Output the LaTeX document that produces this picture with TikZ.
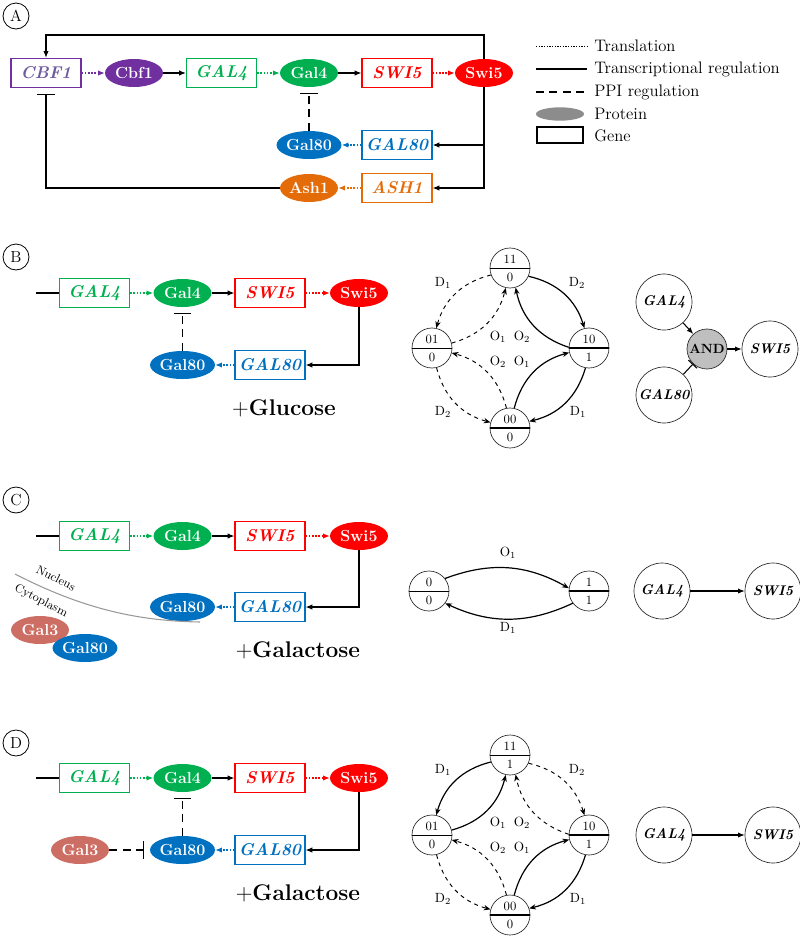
\documentclass[tikz,border=0pt]{standalone}
\usetikzlibrary{arrows.meta,shapes.geometric,calc}
\definecolor{cpurple}{RGB}{112,48,160}
\definecolor{cpurpletxt}{RGB}{110,90,160}
\definecolor{cgreen}{RGB}{0,176,80}
\definecolor{cred}{RGB}{255,0,0}
\definecolor{cblue}{RGB}{0,112,192}
\definecolor{corange}{RGB}{227,108,9}
\definecolor{csalmon}{RGB}{205,110,100}
\newcommand\genefont{\fontsize{12.8}{14}\selectfont\bfseries\itshape}
\newcommand\protfont{\fontsize{12}{14}\selectfont\bfseries}
\newcommand\stnode[6]{%
  \node[stc] (#1) at (#2,#3) {};
  \draw[line width=#6] (#1.west) -- (#1.east);
  \node[stt] (#1t) at ($(#1)+(0,-9)$) {#4};
  \node[stt] (#1b) at ($(#1)+(0,9.5)$) {#5};
}
\tikzset{
  gene/.style={draw=#1, line width=0.9pt, minimum width=52.5pt, minimum height=22pt, inner sep=0pt, text=#1, font=\genefont},
  prot/.style={ellipse, fill=#1, minimum width=43.5pt, minimum height=21pt, inner sep=0pt, text=white, font=\protfont},
  arr/.style={-{Latex[length=5pt,width=4pt]}, line width=0.8pt},
  trans/.style={dash pattern=on 1.2pt off 1.2pt, line width=0.9pt, draw=#1, -{Latex[length=5pt,width=4pt]}},
  inhib/.style={-{Bar[width=13pt]}, line width=0.8pt, shorten >=4pt},
  ppi/.style={dash pattern=on 6pt off 4pt, line width=0.8pt},
  plab/.style={circle, draw, line width=0.6pt, inner sep=0pt, minimum size=19.5pt, font=\fontsize{12}{14}\selectfont},
  legtxt/.style={anchor=west, font=\fontsize{12.5}{14}\selectfont, inner sep=0pt},
  stc/.style={circle, draw=black!85, line width=0.5pt, minimum size=30pt, inner sep=0pt},
  stt/.style={font=\fontsize{9.5}{10}\selectfont, inner sep=0pt},
  elab/.style={font=\fontsize{10}{11}\selectfont, inner sep=0pt},
  sdash/.style={dashed, line width=0.7pt, -{Stealth[length=5pt,width=4pt,inset=1.5pt]}},
  ssolid/.style={line width=0.9pt, -{Stealth[length=5pt,width=4pt,inset=1.5pt]}},
  bigc/.style={circle, draw=black!85, line width=0.5pt, minimum size=42pt, inner sep=0pt, font=\fontsize{10.5}{11}\selectfont\bfseries\itshape},
  andc/.style={circle, draw=black!85, fill=black!25, line width=0.5pt, minimum size=30pt, inner sep=0pt, font=\fontsize{10}{11}\selectfont\bfseries},
  glu/.style={font=\fontsize{17}{19}\selectfont},
  celltxt/.style={font=\fontsize{9}{10}\selectfont, rotate=-27, inner sep=0pt}
}
\begin{document}
\begin{tikzpicture}[x=0.75pt,y=-0.75pt]
\useasboundingbox (0,0) rectangle (800,936);

% ===== Panel A =====
\node[plab] (labA) at (16,16) {A};
\node[gene=cpurple, text=cpurpletxt] (cbfA) at (46,73) {CBF1};
\node[prot=cpurple] (CbfA) at (134,73) {Cbf1};
\node[gene=cgreen] (gal4A) at (221.5,73) {GAL4};
\node[prot=cgreen] (Gal4A) at (309,73) {Gal4};
\node[gene=cred] (swi5A) at (397,73) {SWI5};
\node[prot=cred] (Swi5A) at (484,73) {Swi5};
\node[prot=cblue] (Gal80A) at (309,145) {Gal80};
\node[gene=cblue] (gal80A) at (397,145) {GAL80};
\node[prot=corange] (Ash1A) at (309,188) {Ash1};
\node[gene=corange] (ash1A) at (397,188) {ASH1};
\coordinate (topA) at (46,35);
\draw[trans=cpurple] (cbfA) -- (CbfA);
\draw[arr] (CbfA) -- (gal4A);
\draw[trans=cgreen] (gal4A) -- (Gal4A);
\draw[arr] (Gal4A) -- (swi5A);
\draw[trans=cred] (swi5A) -- (Swi5A);
\draw[trans=cblue] (gal80A) -- (Gal80A);
\draw[trans=corange] (ash1A) -- (Ash1A);
\draw[ppi, -{Bar[width=13pt]}, shorten >=4.5pt] (Gal80A.north) -- (Gal4A.south);
\draw[arr] (Swi5A.north) |- (topA) -- (cbfA.north);
\draw[arr] (Swi5A.south) |- (gal80A.east);
\draw[arr] (Swi5A.south) |- (ash1A.east);
\draw[inhib] (Ash1A.west) -| (cbfA.south);

% legend
\coordinate (l1a) at (536,46); \coordinate (l1b) at (587,46);
\coordinate (l2a) at (536,69); \coordinate (l2b) at (587,69);
\coordinate (l3a) at (536,92); \coordinate (l3b) at (587,92);
\draw[dash pattern=on 1pt off 1pt, line width=0.7pt] (l1a) -- (l1b);
\draw[line width=0.8pt] (l2a) -- (l2b);
\draw[dash pattern=on 6pt off 4pt, line width=0.8pt] (l3a) -- (l3b);
\node[ellipse, fill=black!45, minimum width=36pt, minimum height=10pt, inner sep=0pt] (lprot) at (560,114) {};
\node[draw, line width=1.3pt, minimum width=34pt, minimum height=12pt, inner sep=0pt] (lgene) at (560,135) {};
\node[legtxt] (lt1) at (594,46) {Translation};
\node[legtxt] (lt2) at (594,69) {Transcriptional regulation};
\node[legtxt] (lt3) at (594,92) {PPI regulation};
\node[legtxt] (lt4) at (594,114) {Protein};
\node[legtxt] (lt5) at (594,136) {Gene};

% ===== Panel B =====
\node[plab] (labB) at (16,257) {B};
\coordinate (bL) at (36,293);
\node[gene=cgreen] (gal4B) at (94.5,293) {GAL4};
\node[prot=cgreen] (Gal4B) at (182.5,293) {Gal4};
\node[gene=cred] (swi5B) at (270,293) {SWI5};
\node[prot=cred] (Swi5B) at (359,293) {Swi5};
\node[prot=cblue] (Gal80B) at (182.5,365) {Gal80};
\node[gene=cblue] (gal80B) at (270,365) {GAL80};
\draw[line width=0.8pt] (bL) -- (gal4B.west);
\draw[trans=cgreen] (gal4B) -- (Gal4B);
\draw[arr] (Gal4B) -- (swi5B);
\draw[trans=cred] (swi5B) -- (Swi5B);
\draw[trans=cblue] (gal80B) -- (Gal80B);
\draw[ppi, -{Bar[width=13pt]}, shorten >=4.5pt] (Gal80B.north) -- (Gal4B.south);
\draw[arr] (Swi5B.south) |- (gal80B.east);
\node[glu] (gluB) at (284,408) {$+$\textbf{Glucose}};

\stnode{b11}{510}{268}{11}{0}{0.5pt}
\stnode{b01}{432}{348}{01}{0}{0.5pt}
\stnode{b10}{589}{348}{10}{1}{1.2pt}
\stnode{b00}{510}{428}{00}{0}{1.2pt}
\draw[sdash] (b11.200) to[bend right=30] (b01.78);
\draw[sdash] (b01.14) to[bend right=30] (b11.258);
\draw[ssolid] (b11.336) to[bend left=30] (b10.103);
\draw[ssolid] (b10.178) to[bend left=30] (b11.286);
\draw[sdash] (b00.100) to[bend right=30] (b01.346);
\draw[sdash] (b01.283) to[bend right=30] (b00.164);
\draw[ssolid] (b00.78) to[bend left=30] (b10.193);
\draw[ssolid] (b10.260) to[bend left=30] (b00.19);
\node[elab] (bD1a) at (443,283) {D$_1$};
\node[elab] (bD2a) at (577,283) {D$_2$};
\node[elab] (bO1a) at (498,337) {O$_1$};
\node[elab] (bO2a) at (522,337) {O$_2$};
\node[elab] (bO2b) at (498,362) {O$_2$};
\node[elab] (bO1b) at (522,362) {O$_1$};
\node[elab] (bD2b) at (443,412) {D$_2$};
\node[elab] (bD1b) at (578,412) {D$_1$};

\node[bigc] (rg4B) at (664,302) {GAL4};
\node[bigc] (rg80B) at (664,395) {GAL80};
\node[andc] (andB) at (707,349) {AND};
\node[bigc] (rs5B) at (770,349) {SWI5};
\draw[arr] (rg4B) -- (andB);
\draw[line width=0.8pt, -{Bar[width=9pt]}] (rg80B) -- (andB);
\draw[arr] (andB) -- (rs5B);

% ===== Panel C =====
\node[plab] (labC) at (16,500) {C};
\coordinate (cL) at (36,536);
\node[gene=cgreen] (gal4C) at (94.5,536) {GAL4};
\node[prot=cgreen] (Gal4C) at (182.5,536) {Gal4};
\node[gene=cred] (swi5C) at (270,536) {SWI5};
\node[prot=cred] (Swi5C) at (359,536) {Swi5};
\node[prot=cblue] (Gal80C) at (182.5,607) {Gal80};
\node[gene=cblue] (gal80C) at (270,607) {GAL80};
\draw[line width=0.8pt] (cL) -- (gal4C.west);
\draw[trans=cgreen] (gal4C) -- (Gal4C);
\draw[arr] (Gal4C) -- (swi5C);
\draw[trans=cred] (swi5C) -- (Swi5C);
\draw[trans=cblue] (gal80C) -- (Gal80C);
\draw[arr] (Swi5C.south) |- (gal80C.east);
\draw[black!40, line width=0.8pt] (15,574) .. controls (85,610) and (140,621) .. (200,622);
\node[celltxt] (nuc) at (56,578) {Nucleus};
\node[celltxt] (cyt) at (41,601) {Cytoplasm};
\node[prot=csalmon] (Gal3C) at (40,630) {Gal3};
\node[prot=cblue] (Gal80Cc) at (85,648) {Gal80};
\node[glu] (galC) at (298,650) {$+$\textbf{Galactose}};

\stnode{c0}{429}{591}{0}{0}{0.5pt}
\stnode{c1}{589}{591}{1}{1}{1.2pt}
\draw[ssolid] (c0.38) to[bend left=25] (c1.172);
\draw[ssolid] (c1.217) to[bend left=25] (c0.323);
\node[elab] (cO1) at (508,553) {O$_1$};
\node[elab] (cD1) at (508,628) {D$_1$};

\node[bigc] (rg4C) at (662,591) {GAL4};
\node[bigc] (rs5C) at (773,591) {SWI5};
\draw[arr] (rg4C) -- (rs5C);

% ===== Panel D =====
\node[plab] (labD) at (16,743) {D};
\coordinate (dL) at (36,778);
\node[gene=cgreen] (gal4D) at (94.5,778) {GAL4};
\node[prot=cgreen] (Gal4D) at (182.5,778) {Gal4};
\node[gene=cred] (swi5D) at (270,778) {SWI5};
\node[prot=cred] (Swi5D) at (359,778) {Swi5};
\node[prot=cblue] (Gal80D) at (182.5,850) {Gal80};
\node[gene=cblue] (gal80D) at (270,850) {GAL80};
\node[prot=csalmon] (Gal3D) at (80,850) {Gal3};
\draw[line width=0.8pt] (dL) -- (gal4D.west);
\draw[trans=cgreen] (gal4D) -- (Gal4D);
\draw[arr] (Gal4D) -- (swi5D);
\draw[trans=cred] (swi5D) -- (Swi5D);
\draw[trans=cblue] (gal80D) -- (Gal80D);
\draw[ppi, -{Bar[width=13pt]}, shorten >=4.5pt] (Gal80D.north) -- (Gal4D.south);
\draw[ppi, -{Bar[width=13pt]}, shorten >=4pt] (Gal3D.east) -- (Gal80D.west);
\draw[arr] (Swi5D.south) |- (gal80D.east);
\node[glu] (galD) at (298,893) {$+$\textbf{Galactose}};

\stnode{d11}{510}{755}{11}{1}{0.5pt}
\stnode{d01}{432}{835}{01}{0}{0.5pt}
\stnode{d10}{589}{835}{10}{1}{1.2pt}
\stnode{d00}{510}{915}{00}{0}{1.2pt}
\draw[ssolid] (d11.200) to[bend right=30] (d01.78);
\draw[ssolid] (d01.14) to[bend right=30] (d11.258);
\draw[sdash] (d11.336) to[bend left=30] (d10.103);
\draw[sdash] (d10.178) to[bend left=30] (d11.286);
\draw[sdash] (d00.100) to[bend right=30] (d01.346);
\draw[sdash] (d01.283) to[bend right=30] (d00.164);
\draw[ssolid] (d00.78) to[bend left=30] (d10.193);
\draw[ssolid] (d10.260) to[bend left=30] (d00.19);
\node[elab] (dD1a) at (443,770) {D$_1$};
\node[elab] (dD2a) at (577,770) {D$_2$};
\node[elab] (dO1a) at (498,823) {O$_1$};
\node[elab] (dO2a) at (522,823) {O$_2$};
\node[elab] (dO2b) at (498,848) {O$_2$};
\node[elab] (dO1b) at (522,848) {O$_1$};
\node[elab] (dD2b) at (443,899) {D$_2$};
\node[elab] (dD1b) at (578,899) {D$_1$};

\node[bigc] (rg4D) at (664,835) {GAL4};
\node[bigc] (rs5D) at (773,835) {SWI5};
\draw[arr] (rg4D) -- (rs5D);
\end{tikzpicture}
\end{document}
